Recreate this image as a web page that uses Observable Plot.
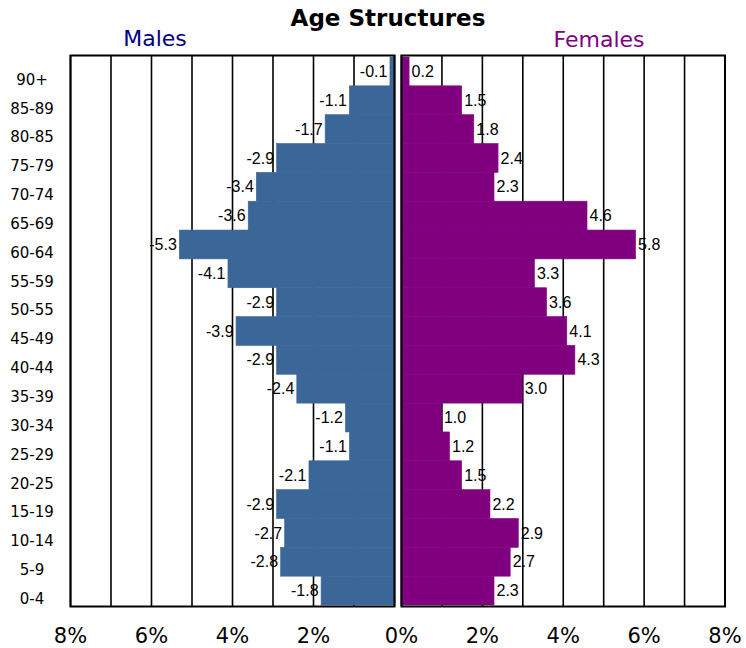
<!DOCTYPE html>
<html>
<head>
<meta charset="utf-8">
<script src="https://cdn.jsdelivr.net/npm/d3@7"></script>
<script src="https://cdn.jsdelivr.net/npm/@observablehq/plot@0.6"></script>
<style>
  body { margin: 0; background: white; }
  #chart { position: relative; width: 746px; height: 648px; background: white; overflow: hidden; }
  .lbl { position: absolute; line-height: 1; white-space: nowrap; font-family: "DejaVu Sans", sans-serif; }
  #left, #right { position: absolute; top: 48px; }
  #left { left: 0; }
  #right { left: 397px; }
</style>
</head>
<body>
<div id="chart">
  <div class="lbl" id="title" style="left:30px;width:716px;text-align:center;top:7px;font-size:23px;font-weight:bold;color:#000;">Age Structures</div>
  <div class="lbl" id="males" style="left:55px;width:200px;text-align:center;top:28px;font-size:22px;color:#000080;">Males</div>
  <div class="lbl" id="females" style="left:499px;width:200px;text-align:center;top:29px;font-size:22px;color:#800080;">Females</div>
  <div id="left"></div>
  <div id="right"></div>
</div>
<script>
const ages = ["90+", "85-89", "80-85", "75-79", "70-74", "65-69", "60-64", "55-59", "50-55", "45-49", "40-44", "35-39", "30-34", "25-29", "20-25", "15-19", "10-14", "5-9", "0-4"];
const males = [-0.1, -1.1, -1.7, -2.9, -3.4, -3.6, -5.3, -4.1, -2.9, -3.9, -2.9, -2.4, -1.2, -1.1, -2.1, -2.9, -2.7, -2.8, -1.8];
const females = [0.2, 1.5, 1.8, 2.4, 2.3, 4.6, 5.8, 3.3, 3.6, 4.1, 4.3, 3.0, 1.0, 1.2, 1.5, 2.2, 2.9, 2.7, 2.3];
const maleTicks = [-8, -6, -4, -2];
const femaleTicks = [0, 2, 4, 6, 8];

const maleRows = ages.map((age, i) => ({age, value: males[i]}));
const femaleRows = ages.map((age, i) => ({age, value: females[i]}));

const common = {
  height: 600,
  marginTop: 7,
  marginBottom: 42,
  style: {fontFamily: "DejaVu Sans", fontSize: "15px", color: "black", background: "transparent", overflow: "visible"}
};

const left = Plot.plot({
  ...common,
  width: 397,
  marginLeft: 70,
  marginRight: 3,
  x: {domain: [-8, 0]},
  y: {domain: ages, padding: 0, round: false, insetTop: 2, insetBottom: 1},
  marks: [
    Plot.ruleX(d3.range(-8, 1), {stroke: "black", strokeWidth: 1.6}),
    Plot.barX(maleRows, {x1: 0, x2: "value", y: "age", fill: "#3B6698", stroke: "#3B6698", strokeWidth: 0.6}),
    Plot.text(maleRows, {x: "value", y: "age", text: d => d.value.toFixed(1), textAnchor: "end", dx: -3, fontFamily: "Liberation Sans", fontSize: 16, fill: "black"}),
    Plot.frame({stroke: "black", strokeWidth: 2}),
    Plot.axisY({tickSize: 0, tickPadding: 38.5, textAnchor: "middle", dy: 8, fontSize: 15, label: null}),
    Plot.axisX({ticks: maleTicks, tickFormat: d => Math.abs(d) + "%", tickSize: 0, tickPadding: 22, fontSize: 21, label: null})
  ]
});

const right = Plot.plot({
  ...common,
  width: 349,
  marginLeft: 4,
  marginRight: 21.5,
  x: {domain: [0, 8]},
  y: {domain: ages, padding: 0, round: false, insetTop: 2, insetBottom: 1, axis: null},
  marks: [
    Plot.ruleX(d3.range(0, 9), {stroke: "black", strokeWidth: 1.6}),
    Plot.barX(femaleRows, {x1: 0, x2: "value", y: "age", fill: "#800080", stroke: "#800080", strokeWidth: 0.6}),
    Plot.text(femaleRows, {x: "value", y: "age", text: d => d.value.toFixed(1), textAnchor: "start", dx: 2, fontFamily: "Liberation Sans", fontSize: 16, fill: "black"}),
    Plot.frame({stroke: "black", strokeWidth: 2}),
    Plot.axisX({ticks: femaleTicks, tickFormat: d => d + "%", tickSize: 0, tickPadding: 22, fontSize: 21, label: null})
  ]
});

document.getElementById("left").appendChild(left);
document.getElementById("right").appendChild(right);
</script>
</body>
</html>
